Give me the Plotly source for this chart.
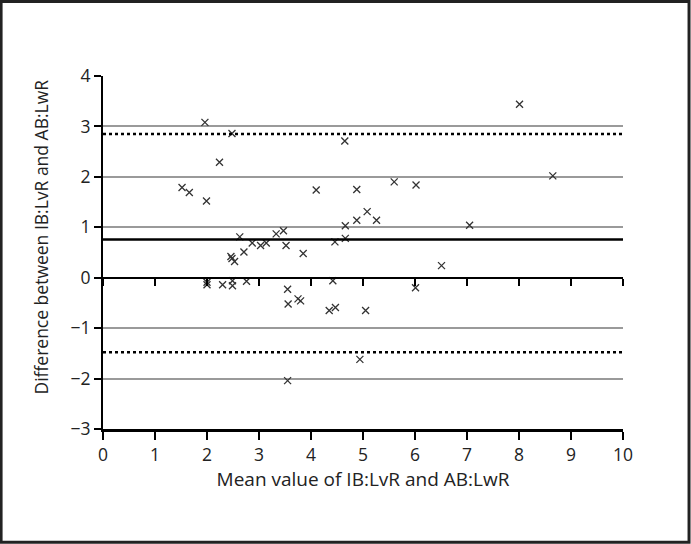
import plotly.graph_objects as go

# Bland-Altman style data
mean_vals = [1.52, 1.66, 1.96, 1.99, 2.24, 2.48, 2.00, 2.00, 2.30, 2.49,
             2.49, 2.76, 2.46, 2.48, 2.53, 2.63, 2.71, 2.87, 3.03, 3.14,
             3.33, 3.47, 3.52, 3.85, 3.55, 3.56, 3.75, 3.80, 3.55, 4.10,
             4.35, 4.42, 4.47, 4.46, 4.66, 4.66, 4.65, 4.88, 4.88, 4.94,
             5.05, 5.08, 5.26, 5.60, 6.02, 6.01, 6.51, 7.05, 8.01, 8.65]
diff_vals = [1.79, 1.69, 3.08, 1.52, 2.29, 2.86, -0.09, -0.14, -0.14, -0.06,
             -0.16, -0.07, 0.42, 0.38, 0.32, 0.81, 0.51, 0.69, 0.64, 0.69,
             0.87, 0.93, 0.64, 0.48, -0.23, -0.52, -0.42, -0.46, -2.04, 1.74,
             -0.65, -0.06, -0.59, 0.71, 0.78, 1.03, 2.71, 1.75, 1.14, -1.62,
             -0.65, 1.31, 1.14, 1.90, 1.84, -0.20, 0.24, 1.04, 3.44, 2.02]

mean_diff = 0.76
upper_loa = 2.85
lower_loa = -1.48

x_ticks = list(range(0, 11))
y_ticks = list(range(-3, 5))
x_range = [0, 10]
y_range = [-3, 4]

x_title = "Mean value of IB:LvR and AB:LwR"
y_title = "Difference between IB:LvR and AB:LwR"

font = "Open Sans, Noto Sans, sans-serif"

fig = go.Figure()

fig.add_trace(go.Scatter(
    x=mean_vals, y=diff_vals, mode="markers",
    marker=dict(symbol="x-thin-open", size=7, color="#333333",
                line=dict(width=1.3, color="#333333")),
    showlegend=False, cliponaxis=False,
))

# dummy trace for the zero-line axis
fig.add_trace(go.Scatter(x=x_range, y=[0, 0], xaxis="x2", mode="lines",
                         line=dict(width=0), hoverinfo="skip", showlegend=False))

for yv, dash, w in [(mean_diff, "solid", 2.5), (upper_loa, "dot", 2.5),
                    (lower_loa, "dot", 2.5)]:
    fig.add_shape(type="line", xref="x", yref="y", x0=x_range[0], x1=x_range[1],
                  y0=yv, y1=yv, line=dict(color="black", width=w, dash=dash))

# outer frame of the figure
fig.add_shape(type="rect", xref="paper", yref="paper",
              x0=-0.196, x1=1.127, y0=-0.321, y1=1.211,
              line=dict(color="#222222", width=3))

fig.add_annotation(text=y_title, xref="paper", yref="paper", x=-0.12, y=0.544,
                   textangle=-90, showarrow=False, xanchor="center",
                   yanchor="middle", font=dict(size=17.5))

fig.update_layout(
    width=691, height=544,
    margin=dict(l=103, r=68, t=76, b=115),
    paper_bgcolor="white", plot_bgcolor="white",
    font=dict(family=font, size=17.5, color="#222222"),
    xaxis=dict(
        range=x_range, tickvals=x_ticks, showgrid=False, zeroline=False,
        showline=True, linecolor="black", linewidth=2.5,
        ticks="outside", ticklen=8, tickwidth=1.5, tickcolor="black",
        title=dict(text=x_title, standoff=7, font=dict(size=19)),
    ),
    xaxis2=dict(
        range=x_range, tickvals=x_ticks, overlaying="x", anchor="free",
        position=3 / 7, showgrid=False, zeroline=False, showline=True,
        linecolor="black", linewidth=2, ticks="outside", ticklen=7,
        tickwidth=1.5, tickcolor="black", showticklabels=False, side="bottom",
    ),
    yaxis=dict(
        range=y_range, tickvals=y_ticks, showgrid=True, gridcolor="#9a9a9a",
        gridwidth=1.5, zeroline=False, showline=True, linecolor="black",
        linewidth=2, ticks="outside", ticklen=7, tickwidth=1.5,
        tickcolor="black",
    ),
)

fig.write_html("out.html", config={"displayModeBar": False},
               post_script="document.body.style.margin='0';")
